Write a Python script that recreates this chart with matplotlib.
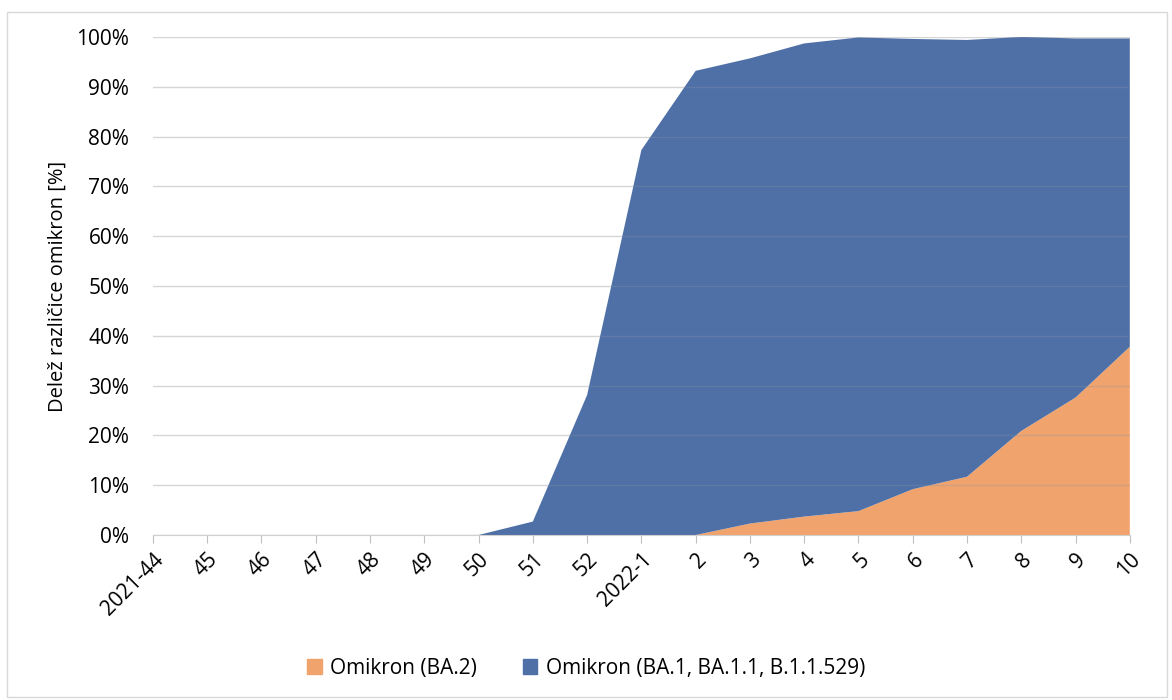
import matplotlib.pyplot as plt
from matplotlib.patches import Rectangle, Patch
from matplotlib.ticker import PercentFormatter

weeks = ['2021-44', '45', '46', '47', '48', '49', '50', '51', '52', '2022-1',
         '2', '3', '4', '5', '6', '7', '8', '9', '10']
# deleži v % (BA.2 spodaj, BA.1 zgoraj)
ba2 = [0, 0, 0, 0, 0, 0, 0, 0, 0, 0,
       0, 2.3, 3.7, 4.8, 9.2, 11.7, 20.9, 27.6, 37.8]
total = [0, 0, 0, 0, 0, 0, 0, 2.7, 28.1, 77.3,
         93.2, 95.7, 98.7, 99.9, 99.6, 99.4, 100, 99.7, 99.7]
ba1 = [t - b for t, b in zip(total, ba2)]

plt.rcParams['font.family'] = ['Open Sans', 'DejaVu Sans']

fig = plt.figure(figsize=(11.72, 7), dpi=100)
fig.patches.append(Rectangle((0.006, 0.005), 0.99, 0.978, transform=fig.transFigure,
                             fill=False, edgecolor='#d9d9d9', linewidth=1))
ax = fig.add_axes([0.1305, 0.2357, 0.8335, 0.7115])

x = list(range(len(weeks)))
areas = ax.stackplot(x, ba2, ba1, colors=['#F0A36D', '#4E70A6'], linewidth=0, zorder=2)

ax.set_xlim(0, len(weeks) - 1)
ax.set_ylim(0, 100)
ax.set_yticks(range(0, 101, 10))
ax.yaxis.set_major_formatter(PercentFormatter(decimals=0))
ax.grid(axis='y', color='#d6d6d6', linewidth=1, zorder=0)
ax.set_axisbelow(True)
# mreža rahlo vidna skozi ploskve
for area in areas:
    for v in range(10, 101, 10):
        ln = ax.axhline(v, color='#8a94a8', linewidth=1, alpha=0.3, zorder=3)
        ln.set_clip_path(area.get_paths()[0], ax.transData)

ax.set_xticks(x)
ax.set_xticklabels(weeks, rotation=45, ha='right', rotation_mode='anchor')
ax.tick_params(axis='x', length=6, color='#bfbfbf', labelsize=15, pad=4)
ax.tick_params(axis='y', length=0, labelsize=15, pad=17)
for s in ['top', 'right', 'left']:
    ax.spines[s].set_visible(False)
ax.spines['bottom'].set_color('#d0d0d0')

ax.set_ylabel('Delež različice omikron [%]', fontsize=14.5, labelpad=6)

handles = [Patch(color='#F0A36D', label='Omikron (BA.2)'),
           Patch(color='#4E70A6', label='Omikron (BA.1, BA.1.1, B.1.1.529)')]
fig.legend(handles=handles, loc='center', bbox_to_anchor=(0.5, 0.045), ncol=2,
           frameon=False, fontsize=15, handlelength=0.7, handleheight=0.7,
           handletextpad=0.4, columnspacing=2.2)

fig.savefig('out.png', dpi=100)
